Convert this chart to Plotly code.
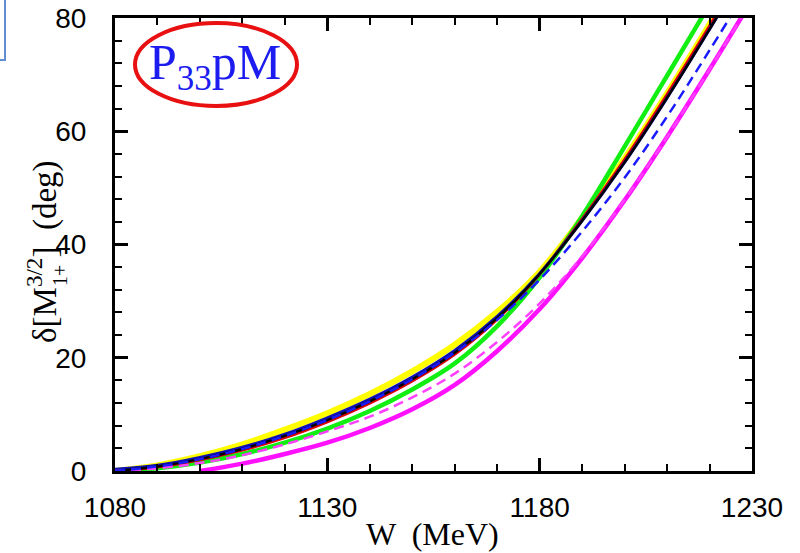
import plotly.graph_objects as go

# ---------------- data ----------------
W = [1080, 1090, 1100, 1110, 1120, 1130, 1140, 1150, 1160, 1170, 1180, 1190, 1200, 1210, 1220, 1230]
W_magenta = [1100, 1110, 1120, 1130, 1140, 1150, 1160, 1170, 1180, 1190, 1200, 1210, 1220, 1230]

delta_yellow = [0, 1.0, 2.6, 4.7, 7.3, 10.2, 13.6, 17.6, 22.3, 28.1, 35.2, 44.7, 55.2, 66.7, 78.9, 91.4]
delta_green = [0, 0.5, 1.5, 3.0, 5.0, 7.5, 10.6, 14.4, 19.0, 25.6, 34.2, 45.0, 57.3, 69.8, 82.4, 95.0]
delta_red = [0, 0.7, 2.0, 3.7, 5.9, 8.7, 12.0, 15.9, 20.6, 26.8, 34.8, 44.5, 55.0, 66.5, 78.6, 91.0]
delta_blue = [0.3, 1.0, 2.4, 4.2, 6.5, 9.4, 12.7, 16.6, 21.3, 27.3, 34.9, 44.2, 54.5, 65.9, 78.0, 90.4]
delta_black = [0, 0.8, 2.1, 3.9, 6.2, 9.0, 12.3, 16.2, 20.9, 27.0, 34.8, 44.2, 54.5, 65.9, 78.0, 90.4]
delta_magenta_dash = [0, 0.5, 1.4, 2.8, 4.7, 7.0, 9.6, 13.0, 17.2, 22.8, 29.6, 37.9, 47.9, 59.0, 70.9, 83.2]
delta_blue_dash = [0, 0.8, 2.1, 3.9, 6.2, 9.0, 12.3, 16.2, 20.9, 26.7, 33.8, 42.3, 51.8, 62.6, 74.3, 86.4]
delta_magenta = [0, 1.3, 3.0, 5.0, 7.6, 10.9, 15.2, 21.2, 28.6, 37.6, 47.8, 59.0, 70.9, 83.2]

x_tickvals = [1080, 1130, 1180, 1230]
y_tickvals = [0, 20, 40, 60, 80]

# ---------------- layout geometry (pixels) ----------------
FIG_W, FIG_H = 800, 553
PL, PR, PT, PB = 115, 752, 18, 471  # plot area edges in pixels


def px(x):
    return (x - PL) / (PR - PL)


def py(y):
    return (PB - y) / (PB - PT)


fig = go.Figure()

series = [
    (W, delta_yellow, "#ffff00", 6, "solid"),
    (W, delta_green, "#11ee11", 4.5, "solid"),
    (W, delta_red, "#dd0000", 3, "solid"),
    (W, delta_blue, "#1010b0", 3, "solid"),
    (W, delta_black, "#000000", 2.5, "solid"),
    (W_magenta, delta_magenta, "#ff10ff", 4.5, "solid"),
    (W, delta_magenta_dash, "#ff40ff", 2.5, "10px,6px"),
    (W, delta_blue_dash, "#1a1aff", 2.5, "10px,6px"),
]
for xs, ys, col, wid, dash in series:
    fig.add_trace(go.Scatter(
        x=xs, y=ys, mode="lines",
        line=dict(color=col, width=wid, dash=dash, shape="spline", smoothing=1.0),
        showlegend=False, hoverinfo="skip",
    ))

axis_common = dict(
    showline=True, linecolor="black", linewidth=3, mirror="allticks",
    ticks="inside", ticklen=13, tickwidth=2.5, tickcolor="black",
    showgrid=False, zeroline=False, automargin=False,
    tickfont=dict(family="Liberation Sans", size=28, color="black"),
)

fig.update_xaxes(
    range=[1080, 1230], tickvals=x_tickvals, ticktext=[str(v) for v in x_tickvals],
    minor=dict(dtick=10, tick0=1080, ticks="inside", ticklen=7, tickwidth=2, tickcolor="black"),
    ticklabelstandoff=9,
    **axis_common,
)
fig.update_yaxes(
    range=[0, 80], tickvals=y_tickvals, ticktext=[str(v) for v in y_tickvals],
    minor=dict(dtick=4, tick0=0, ticks="inside", ticklen=7, tickwidth=2, tickcolor="black"),
    ticklabelstandoff=20,
    **axis_common,
)

serif = "Liberation Serif"
annotations = [
    dict(text="W  (MeV)", x=px(432), y=py(534), xref="paper", yref="paper",
         showarrow=False, xanchor="center", yanchor="middle",
         font=dict(family=serif, size=32, color="black")),
    dict(text="δ[M<sup>3/2</sup>]  (deg)", x=px(42), y=py(252), xref="paper", yref="paper",
         showarrow=False, xanchor="center", yanchor="middle", textangle=-90,
         font=dict(family=serif, size=33, color="black")),
    dict(text="1+", x=px(60), y=py(276), xref="paper", yref="paper",
         showarrow=False, xanchor="center", yanchor="middle", textangle=-90,
         font=dict(family=serif, size=20, color="black")),
    dict(text="P<sub>33</sub>pM", x=px(215), y=py(66), xref="paper", yref="paper",
         showarrow=False, xanchor="center", yanchor="middle",
         font=dict(family=serif, size=50, color="#1c1cf0")),
]

shapes = [
    dict(type="circle", xref="paper", yref="paper",
         x0=px(135), x1=px(297), y0=py(106), y1=py(23),
         line=dict(color="#e81010", width=4)),
    dict(type="rect", xref="paper", yref="paper",
         x0=px(-10), x1=px(5), y0=py(60), y1=py(-5),
         line=dict(color="#5f8fd0", width=2), fillcolor="white"),
]

fig.update_layout(
    width=FIG_W, height=FIG_H,
    margin=dict(l=PL, r=FIG_W - PR, t=PT, b=FIG_H - PB, autoexpand=False),
    paper_bgcolor="white", plot_bgcolor="white",
    annotations=annotations, shapes=shapes,
    showlegend=False,
)

fig.write_html("out.html", config={"displayModeBar": False},
               post_script="document.body.style.margin='0px';")
